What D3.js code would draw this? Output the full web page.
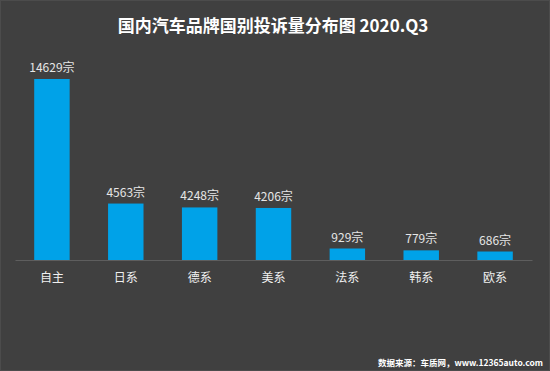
<!DOCTYPE html>
<html lang="zh">
<head>
  <meta charset="UTF-8">
  <title>国内汽车品牌国别投诉量分布图</title>
  <script src="https://cdn.jsdelivr.net/npm/d3@7/dist/d3.min.js"></script>
  <style>
    html, body { margin: 0; padding: 0; background: #404040; }
    svg { display: block; }
  </style>
</head>
<body>
  <svg width="550" height="371"></svg>
  <script>
    var categories = ['自主', '日系', '德系', '美系', '法系', '韩系', '欧系'];
    var complaints = [14629, 4563, 4248, 4206, 929, 779, 686];
    var unit = '宗';

    var font = '"Microsoft YaHei", "Noto Sans CJK SC", sans-serif';
    var svg = d3.select('svg');
    var W = 550, H = 371;
    var margin = {top: 79, right: 18, bottom: 111, left: 15};
    var baseY = H - margin.bottom;

    svg.append('rect')
      .attr('x', 0.5).attr('y', 0.5)
      .attr('width', W - 1).attr('height', H - 1)
      .attr('fill', '#404040')
      .attr('stroke', '#4c4c4c');

    svg.append('text')
      .attr('x', 273).attr('y', 32)
      .attr('text-anchor', 'middle')
      .attr('fill', '#ffffff')
      .style('font-family', font)
      .style('font-size', '17px')
      .style('font-weight', 'bold')
      .text('国内汽车品牌国别投诉量分布图 2020.Q3');

    var x = d3.scaleBand()
      .domain(categories)
      .range([margin.left, W - margin.right])
      .paddingInner(0.52)
      .paddingOuter(0.26);

    var y = d3.scaleLinear()
      .domain([0, d3.max(complaints)])
      .range([baseY, margin.top]);

    var data = categories.map(function(c, i) {
      return {name: c, value: complaints[i]};
    });

    svg.selectAll('.bar')
      .data(data)
      .enter().append('rect')
      .attr('class', 'bar')
      .attr('x', function(d) { return x(d.name); })
      .attr('y', function(d) { return y(d.value); })
      .attr('width', x.bandwidth())
      .attr('height', function(d) { return baseY - y(d.value); })
      .attr('fill', '#00a2e8');

    svg.selectAll('.val')
      .data(data)
      .enter().append('text')
      .attr('class', 'val')
      .attr('x', function(d) { return x(d.name) + x.bandwidth() / 2; })
      .attr('y', function(d) { return y(d.value) - 7; })
      .attr('text-anchor', 'middle')
      .attr('fill', '#e6e6e6')
      .style('font-family', font)
      .style('font-size', '12px')
      .text(function(d) { return d.value + unit; });

    var xAxis = d3.axisBottom(x).tickSize(0).tickPadding(13);
    var g = svg.append('g')
      .attr('transform', 'translate(0,' + baseY + ')')
      .call(xAxis);
    g.select('.domain').attr('stroke', '#5e5e5e');
    g.selectAll('text')
      .attr('fill', '#f0f0f0')
      .style('font-family', font)
      .style('font-size', '12px');

    svg.append('text')
      .attr('x', 543).attr('y', 366)
      .attr('text-anchor', 'end')
      .attr('fill', '#ffffff')
      .style('font-family', font)
      .style('font-size', '8.5px')
      .style('font-weight', 'bold')
      .text('数据来源：车质网，www.12365auto.com');
  </script>
</body>
</html>
